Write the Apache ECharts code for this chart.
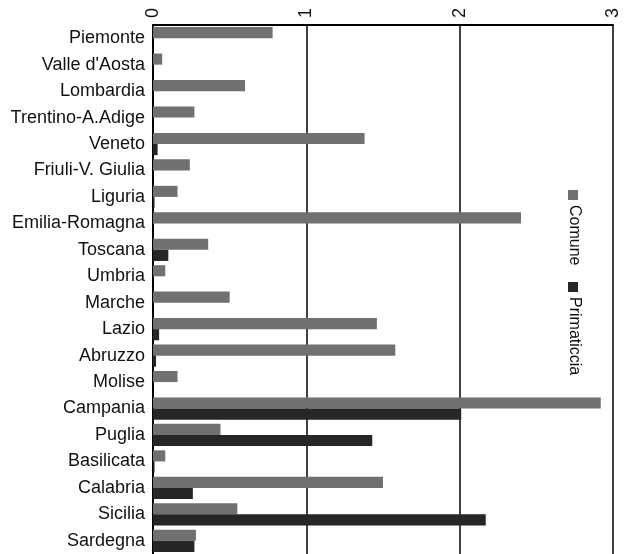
<!DOCTYPE html>
<html>
<head>
<meta charset="utf-8">
<script src="https://cdn.jsdelivr.net/npm/echarts@6/dist/echarts.min.js"></script>
<style>html,body{margin:0;padding:0;background:#fff;}#c{width:625px;height:554px;}</style>
</head>
<body>
<div id="c"></div>
<script>
const regions = ["Piemonte","Valle d'Aosta","Lombardia","Trentino-A.Adige","Veneto","Friuli-V. Giulia","Liguria","Emilia-Romagna","Toscana","Umbria","Marche","Lazio","Abruzzo","Molise","Campania","Puglia","Basilicata","Calabria","Sicilia","Sardegna"];
const comune = [0.78,0.06,0.60,0.27,1.38,0.24,0.16,2.40,0.36,0.08,0.50,1.46,1.58,0.16,2.92,0.44,0.08,1.50,0.55,0.28];
const primaticcia = [0,0,0,0,0.03,0,0.01,0,0.10,0,0,0.04,0.02,0,2.01,1.43,0.01,0.26,2.17,0.27];
const seriesNames = ["Comune","Primaticcia"];
const tickValues = [0,1,2,3];

const chart = echarts.init(document.getElementById('c'));
const font = 'Liberation Sans, Arial, sans-serif';
chart.setOption({
  animation: false,
  backgroundColor: '#fff',
  legend: {show: false, data: seriesNames},
  grid: {left: 153, right: 12, top: 25, height: 532, containLabel: false},
  xAxis: {
    type: 'value', position: 'top', min: tickValues[0], max: tickValues[tickValues.length-1], interval: 1,
    axisLine: {show: true, lineStyle: {color: '#000', width: 2}},
    axisTick: {show: false},
    splitLine: {show: true, lineStyle: {color: '#000', width: 1.5}},
    axisLabel: {rotate: -90, fontSize: 18, color: '#111', fontFamily: font, margin: 7}
  },
  yAxis: {
    type: 'category', inverse: true, data: regions,
    axisLine: {show: true, lineStyle: {color: '#000', width: 2}},
    axisTick: {show: false},
    axisLabel: {fontSize: 18, color: '#111', fontFamily: font, margin: 8}
  },
  series: [
    {name: seriesNames[0], type: 'bar', data: comune, barGap: '0%', barCategoryGap: '16%',
     itemStyle: {color: '#707070'}},
    {name: seriesNames[1], type: 'bar', data: primaticcia, barGap: '0%', barCategoryGap: '16%',
     itemStyle: {color: '#262626'}}
  ],
  graphic: [
    {type: 'rect', shape: {x: 568, y: 190, width: 10, height: 10}, style: {fill: '#707070'}},
    {type: 'text', x: 574, y: 205, rotation: -Math.PI/2,
     style: {text: seriesNames[0], fontSize: 16, fontFamily: font, fill: '#111', textVerticalAlign: 'middle'}},
    {type: 'rect', shape: {x: 568, y: 282, width: 10, height: 10}, style: {fill: '#262626'}},
    {type: 'text', x: 574, y: 297, rotation: -Math.PI/2,
     style: {text: seriesNames[1], fontSize: 16, fontFamily: font, fill: '#111', textVerticalAlign: 'middle'}}
  ]
});
</script>
</body>
</html>
